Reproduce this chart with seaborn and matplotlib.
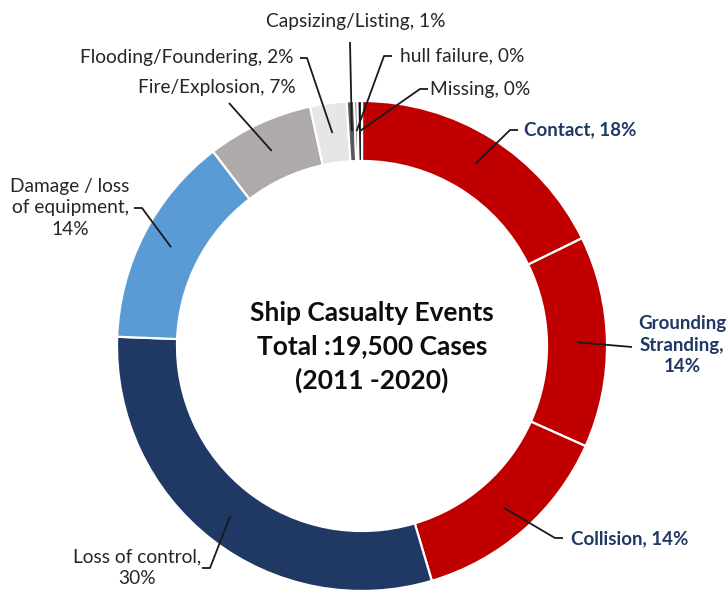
import numpy as np
import matplotlib
matplotlib.use("Agg")
import matplotlib.pyplot as plt
import seaborn as sns

# ---- data ----
categories = ["Contact", "Grounding Stranding", "Collision", "Loss of control",
              "Damage / loss of equipment", "Fire/Explosion", "Flooding/Foundering",
              "Capsizing/Listing", "hull failure", "Missing"]
shares = [17.75, 13.95, 13.7, 30.2, 14.0, 7.0, 2.4, 0.5, 0.2, 0.3]
label_texts = ["Contact, 18%", "Grounding\nStranding,\n14%", "Collision, 14%",
               "Loss of control,\n30%", "Damage / loss\nof equipment,\n14%",
               "Fire/Explosion, 7%", "Flooding/Foundering, 2%",
               "Capsizing/Listing, 1%", "hull failure, 0%", "Missing, 0%"]
colors = ["#C00000", "#C00000", "#C00000", "#1F3864", "#5B9BD5",
          "#AEAAAA", "#E7E6E6", "#595959", "#262626", "#0D0D0D"]
center_title = "Ship Casualty Events\nTotal :19,500 Cases\n(2011 -2020)"

sns.set_theme(style="white")
plt.rcParams["font.family"] = ["Lato", "DejaVu Sans"]

W, H = 726, 590
fig = plt.figure(figsize=(W / 100, H / 100), dpi=100)
ax = fig.add_axes([0, 0, 1, 1])

cx, cy = 362, 346          # pixel centre (y down)
R, ring = 245, 60

ax.pie(shares, colors=colors, startangle=90, counterclock=False,
       radius=R, center=(cx, H - cy),
       wedgeprops=dict(width=ring, edgecolor="white", linewidth=1.6))
ax.set_xlim(0, W)
ax.set_ylim(0, H)
ax.set_aspect("equal")
ax.axis("off")

# label layout: (elbow points ..., text pos, ha, bold)
layout = {
    0: ([(510, 130), (518, 130)], (524, 130), "left", True),
    1: ([(632, 347)], (682, 345), "center", True),
    2: ([(555, 538), (563, 538)], (571, 539), "left", True),
    3: ([(210, 568), (202, 568)], (137, 568), "center", False),
    4: ([(142, 208), (134, 208)], (70, 208), "center", False),
    5: ([(229, 103)], (217, 88), "center", False),
    6: ([(307, 58), (300, 58)], (187, 57), "center", False),
    7: ([(350, 42)], (356, 22), "center", False),
    8: ([(384, 56), (392, 56)], (400, 56), "left", False),
    9: ([(420, 89), (428, 89)], (430, 89), "left", False),
}

total = sum(shares)
cum = np.cumsum([0] + shares[:-1])
mid_r = R - ring / 2
for i, val in enumerate(shares):
    frac = (cum[i] + val / 2) / total
    ang = np.deg2rad(frac * 360)
    ax_x = cx + mid_r * np.sin(ang)
    ax_y = cy - mid_r * np.cos(ang)
    pts, (tx, ty), ha, bold = layout[i]
    xs = [ax_x] + [p[0] for p in pts]
    ys = [H - ax_y] + [H - p[1] for p in pts]
    ax.plot(xs, ys, color="#1a1a1a", lw=1.3, solid_capstyle="butt")
    ax.text(tx, H - ty, label_texts[i], ha=ha, va="center", multialignment="center",
            fontsize=13.5 if bold else 13.8, fontweight="bold" if bold else "normal",
            color="#1F3864" if bold else "#262626", linespacing=1.32)

ax.text(372, H - 347, center_title, ha="center", va="center", fontsize=19,
        fontweight="bold", color="#0D0D0D", linespacing=1.45)

fig.savefig("out.png", dpi=100, facecolor="white")
